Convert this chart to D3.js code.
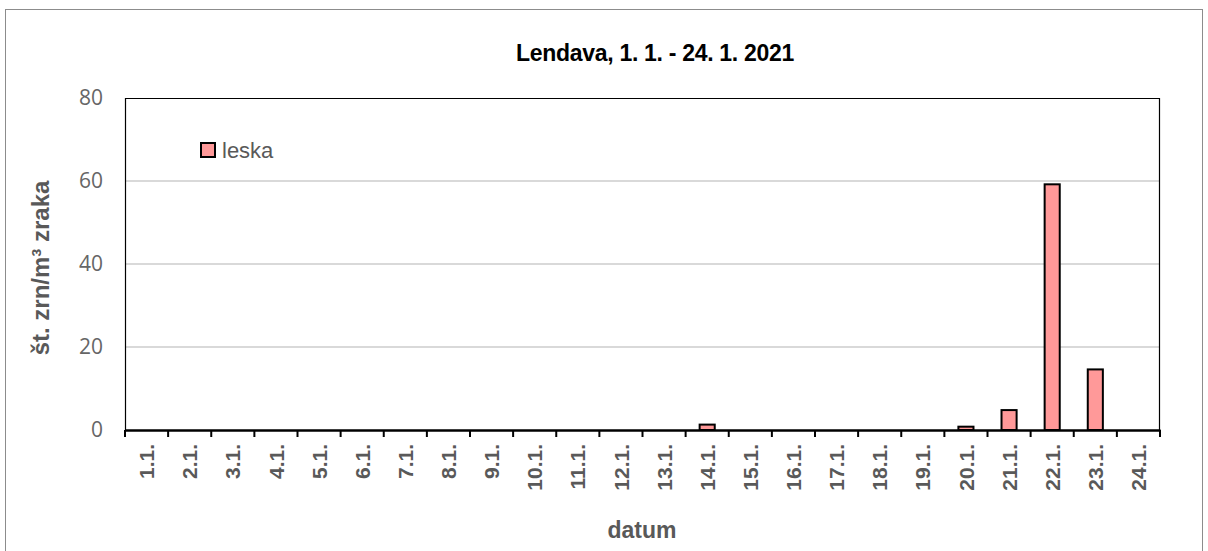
<!DOCTYPE html>
<html>
<head>
<meta charset="utf-8">
<script src="https://cdn.jsdelivr.net/npm/d3@7"></script>
<style>
  body { margin: 0; background: #fff; }
  svg { display: block; font-family: "Liberation Sans", Arial, sans-serif; }
</style>
</head>
<body>
<div id="chart"></div>
<script>
// data
const days = ['1.1.', '2.1.', '3.1.', '4.1.', '5.1.', '6.1.', '7.1.', '8.1.', '9.1.', '10.1.', '11.1.', '12.1.',
  '13.1.', '14.1.', '15.1.', '16.1.', '17.1.', '18.1.', '19.1.', '20.1.', '21.1.', '22.1.', '23.1.', '24.1.'];
const leska = [0, 0, 0, 0, 0, 0, 0, 0, 0, 0, 0, 0, 0, 1.3, 0, 0, 0, 0, 0, 0.8, 4.8, 59.2, 14.6, 0];
const yTicks = [0, 20, 40, 60, 80];
const chartTitle = 'Lendava, 1. 1. - 24. 1. 2021';
const seriesName = 'leska';

const W = 1208, H = 551;
const margin = { top: 98, right: 48, bottom: 121, left: 125 };
const width = W - margin.left - margin.right;
const height = H - margin.top - margin.bottom;

const svg = d3.select('#chart').append('svg')
  .attr('width', W)
  .attr('height', H);

// outer frame
svg.append('rect')
  .attr('x', 5.5).attr('y', 9.5)
  .attr('width', 1197).attr('height', 600)
  .attr('fill', 'none')
  .attr('stroke', '#8c8c8c');

svg.append('text')
  .text(chartTitle)
  .attr('x', 655).attr('y', 61)
  .attr('text-anchor', 'middle')
  .style('font-size', '23px')
  .style('font-weight', 'bold')
  .style('letter-spacing', '-0.3px')
  .attr('fill', '#000');

const g = svg.append('g')
  .attr('transform', 'translate(' + margin.left + ',' + margin.top + ')');

const x = d3.scaleBand().domain(days).range([0, width]).paddingInner(0.65).paddingOuter(0.325);
const xb = d3.scaleBand().domain(days).range([0, width]);
const y = d3.scaleLinear().domain([0, 80]).range([height, 0]);

// gridlines
g.append('g')
  .selectAll('line')
  .data(yTicks.filter(t => t > 0 && t < 80))
  .enter().append('line')
  .attr('x1', 0).attr('x2', width)
  .attr('y1', d => y(d)).attr('y2', d => y(d))
  .attr('stroke', '#d9d9d9')
  .attr('stroke-width', 2);

// plot frame
g.append('path')
  .attr('d', 'M0.5,' + height + 'V0.5H' + (width - 0.5) + 'V' + height)
  .attr('fill', 'none')
  .attr('stroke', '#000')
  .attr('stroke-width', 1.2);

// y axis labels
const yAxis = g.append('g')
  .call(d3.axisLeft(y).tickValues(yTicks).tickSize(0).tickPadding(22));
yAxis.select('.domain').remove();
yAxis.selectAll('text')
  .style('font-size', '21px')
  .style('font-family', '"Open Sans", "Liberation Sans", Arial, sans-serif')
  .attr('fill', '#666');

// bars
g.append('g')
  .selectAll('rect')
  .data(leska)
  .enter().append('rect')
  .attr('x', (d, i) => x(days[i]))
  .attr('y', d => y(d))
  .attr('width', x.bandwidth())
  .attr('height', d => height - y(d))
  .attr('fill', '#ff9999')
  .attr('stroke', '#000')
  .attr('stroke-width', 2)
  .style('display', d => d > 0 ? null : 'none');

// x axis
const xAxis = g.append('g')
  .attr('transform', 'translate(0,' + height + ')')
  .call(d3.axisBottom(xb).tickSize(0).tickPadding(0));
xAxis.select('.domain').attr('stroke', '#000').attr('stroke-width', 2.5);
xAxis.selectAll('.tick line').remove();
// boundary ticks
xAxis.append('g')
  .selectAll('line')
  .data(d3.range(days.length + 1))
  .enter().append('line')
  .attr('x1', i => i * xb.step()).attr('x2', i => i * xb.step())
  .attr('y1', 0).attr('y2', 7)
  .attr('stroke', '#000')
  .attr('stroke-width', 2);
xAxis.selectAll('.tick text')
  .attr('transform', 'rotate(-90)')
  .attr('x', -14).attr('y', 0)
  .attr('dy', '0.36em')
  .style('text-anchor', 'end')
  .style('font-size', '21px')
  .style('font-weight', 'bold')
  .style('font-family', '"Liberation Sans", Arial, sans-serif')
  .attr('fill', '#595959');

// axis titles
svg.append('text')
  .text('datum')
  .attr('x', 642).attr('y', 538)
  .attr('text-anchor', 'middle')
  .style('font-size', '23px')
  .style('font-weight', 'bold')
  .attr('fill', '#595959');

svg.append('text')
  .text('št. zrn/m³ zraka')
  .attr('transform', 'translate(49,268) rotate(-90)')
  .attr('text-anchor', 'middle')
  .style('font-size', '24px')
  .style('font-weight', 'bold')
  .attr('fill', '#595959');

// legend
const legend = svg.append('g').attr('transform', 'translate(201,143)');
legend.append('rect')
  .attr('width', 14).attr('height', 14)
  .attr('fill', '#ff9999')
  .attr('stroke', '#000')
  .attr('stroke-width', 2);
legend.append('text')
  .text(seriesName)
  .attr('x', 21).attr('y', 15)
  .style('font-size', '22px')
  .style('font-family', '"Liberation Sans", Arial, sans-serif')
  .attr('fill', '#595959');
</script>
</body>
</html>
